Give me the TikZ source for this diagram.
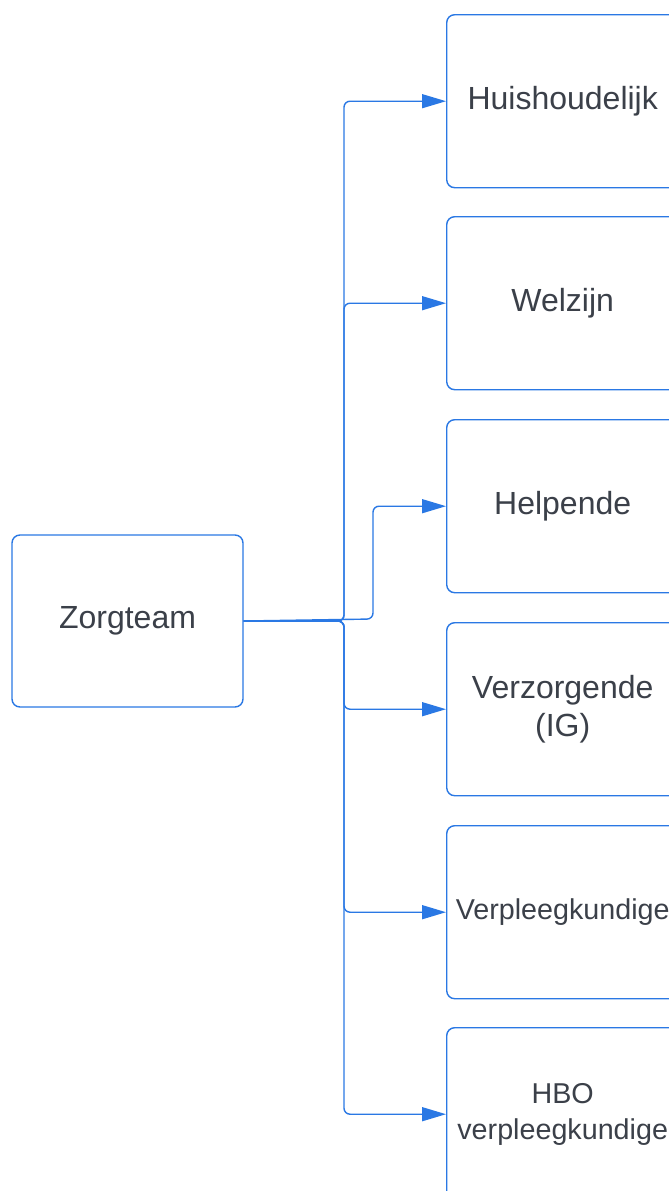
\documentclass[tikz,border=0pt]{standalone}
\usepackage{fontspec}
\setmainfont{Liberation Sans}
\usetikzlibrary{arrows.meta}
\definecolor{lblue}{HTML}{2A78E4}
\definecolor{ltext}{HTML}{3B4049}
\begin{document}
\begin{tikzpicture}[x=1pt,y=1pt,
  box/.style={draw=lblue, line width=1.4pt, rounded corners=8pt, fill=white,
    text=ltext, align=center, minimum width=232pt, minimum height=173pt,
    inner sep=0pt, font=\fontsize{32}{38}\selectfont},
  smalltext/.style={font=\fontsize{28.7}{36}\selectfont},
  conn/.style={draw=lblue, line width=1.4pt, rounded corners=6pt,
    -{Triangle[length=24pt,width=14pt]}}]
\useasboundingbox (0,0) rectangle (669,-1191);
\clip (0,0) rectangle (669,-1191);
\fill[white] (0,0) rectangle (669,-1191);
\node[box, minimum width=231pt, minimum height=172pt] (Z) at (127.5,-621) {Zorgteam};
\node[box, anchor=north west] (B1) at (446,-14) {Huishoudelijk};
\node[box, anchor=north west] (B2) at (446,-216) {Welzijn};
\node[box, anchor=north west] (B3) at (446,-419) {Helpende};
\node[box, anchor=north west] (B4) at (446,-622) {Verzorgende\\(IG)};
\node[box, smalltext, anchor=north west] (B5) at (446,-825) {Verpleegkundige};
\node[box, smalltext, anchor=north west] (B6) at (446,-1027) {HBO\\verpleegkundige};
\coordinate (J) at (344,-621);
\draw[conn] (Z.east) -- (J) |- (B1.west);
\draw[conn] (Z.east) -- (J) |- (B2.west);
\draw[conn] (Z.east) -- (373,-619) |- (B3.west);
\draw[conn] (Z.east) -- (J) |- (B4.west);
\draw[conn] (Z.east) -- (J) |- (B5.west);
\draw[conn] (Z.east) -- (J) |- (B6.west);
\end{tikzpicture}
\end{document}
